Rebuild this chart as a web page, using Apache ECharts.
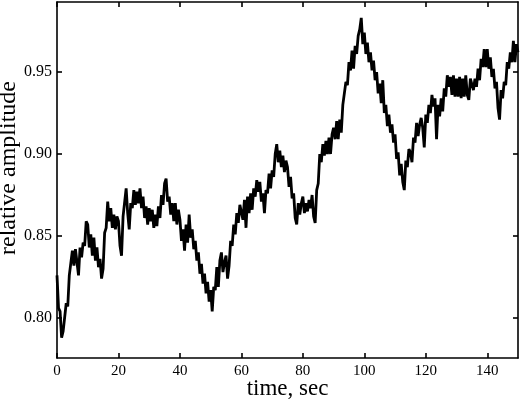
<!DOCTYPE html>
<html>
<head>
<meta charset="utf-8">
<script src="https://cdn.jsdelivr.net/npm/echarts@6/dist/echarts.min.js"></script>
<style>
  html, body { margin: 0; padding: 0; background: #fff; }
  #chart { width: 520px; height: 403px; }
</style>
</head>
<body>
<div id="chart"></div>
<script>
// one sample every half second, 0 .. 150 s
const sampleStep = 0.5;

const amplitude = [
  0.826, 0.806, 0.804, 0.788, 0.792, 0.791, 0.809, 0.807, 0.826, 0.827,
  0.841, 0.832, 0.842, 0.834, 0.826, 0.843, 0.837, 0.846, 0.844, 0.859,
  0.857, 0.843, 0.851, 0.838, 0.849, 0.835, 0.843, 0.831, 0.836, 0.824,
  0.830, 0.852, 0.855, 0.871, 0.859, 0.867, 0.855, 0.863, 0.854, 0.862,
  0.859, 0.844, 0.838, 0.862, 0.861, 0.879, 0.864, 0.854, 0.870, 0.867,
  0.878, 0.869, 0.877, 0.870, 0.879, 0.867, 0.874, 0.861, 0.868, 0.857,
  0.867, 0.859, 0.866, 0.855, 0.863, 0.856, 0.868, 0.861, 0.875, 0.869,
  0.882, 0.885, 0.871, 0.874, 0.863, 0.870, 0.859, 0.870, 0.857, 0.866,
  0.860, 0.847, 0.854, 0.841, 0.857, 0.846, 0.863, 0.849, 0.854, 0.842,
  0.847, 0.835, 0.840, 0.827, 0.833, 0.821, 0.827, 0.815, 0.822, 0.810,
  0.817, 0.804, 0.819, 0.817, 0.831, 0.819, 0.835, 0.840, 0.828, 0.834,
  0.838, 0.824, 0.832, 0.847, 0.844, 0.857, 0.851, 0.864, 0.858, 0.869,
  0.870, 0.860, 0.872, 0.855, 0.874, 0.864, 0.876, 0.866, 0.879, 0.874,
  0.884, 0.877, 0.883, 0.871, 0.876, 0.864, 0.878, 0.876, 0.888, 0.879,
  0.890, 0.886, 0.900, 0.906, 0.895, 0.902, 0.892, 0.899, 0.889, 0.896,
  0.892, 0.880, 0.886, 0.873, 0.876, 0.861, 0.857, 0.870, 0.863, 0.870,
  0.874, 0.864, 0.870, 0.865, 0.872, 0.867, 0.875, 0.862, 0.858, 0.878,
  0.882, 0.900, 0.895, 0.906, 0.899, 0.908, 0.900, 0.910, 0.900, 0.912,
  0.916, 0.909, 0.920, 0.909, 0.921, 0.913, 0.930, 0.929, 0.944, 0.942,
  0.956, 0.951, 0.963, 0.952, 0.966, 0.961, 0.972, 0.976, 0.983, 0.967,
  0.974, 0.961, 0.968, 0.956, 0.962, 0.951, 0.957, 0.945, 0.950, 0.937,
  0.943, 0.931, 0.945, 0.925, 0.930, 0.917, 0.924, 0.913, 0.918, 0.907,
  0.912, 0.897, 0.901, 0.887, 0.894, 0.883, 0.878, 0.896, 0.892, 0.903,
  0.901, 0.895, 0.910, 0.907, 0.919, 0.911, 0.918, 0.922, 0.916, 0.904,
  0.924, 0.919, 0.930, 0.925, 0.936, 0.929, 0.934, 0.909, 0.930, 0.923,
  0.934, 0.926, 0.940, 0.935, 0.948, 0.941, 0.947, 0.936, 0.948, 0.935,
  0.946, 0.935, 0.947, 0.934, 0.946, 0.935, 0.948, 0.936, 0.933, 0.946,
  0.945, 0.939, 0.946, 0.941, 0.952, 0.945, 0.958, 0.953, 0.964, 0.953,
  0.964, 0.952, 0.959, 0.947, 0.952, 0.940, 0.944, 0.928, 0.921, 0.939,
  0.934, 0.944, 0.942, 0.956, 0.952, 0.962, 0.956, 0.969, 0.956, 0.967,
  0.962
];

const xTicks = [0, 20, 40, 60, 80, 100, 120, 140];
const yTicks = [0.80, 0.85, 0.90, 0.95];
const xRange = [0, 150];
const yRange = [0.7756, 0.9927];

const serif = '"Liberation Serif", "DejaVu Serif", serif';
const ink = '#000';

function frameAxis(extra) {
    return {
        type: 'value',
        axisLine: { show: true, onZero: false, lineStyle: { color: ink, width: 1.6 } },
        splitLine: { show: false },
        ...extra,
    };
}

function ticks(values) {
    return { show: true, inside: true, length: 5, customValues: values, lineStyle: { color: ink, width: 1.6 } };
}

const chart = echarts.init(document.getElementById('chart'), null, { renderer: 'canvas' });
chart.setOption({
    animation: false,
    backgroundColor: '#fff',
    textStyle: { fontFamily: serif },
    grid: { left: 57, right: 2, top: 2, bottom: 45, containLabel: false, outerBoundsMode: 'none' },
    xAxis: [
        frameAxis({
            position: 'bottom',
            min: xRange[0],
            max: xRange[1],
            name: 'time, sec',
            nameLocation: 'middle',
            nameGap: 19,
            nameMoveOverlap: false,
            nameTextStyle: { color: ink, fontSize: 23, fontFamily: serif },
            axisTick: ticks(xTicks),
            axisLabel: { color: ink, fontSize: 15, fontFamily: serif, margin: 6, customValues: xTicks },
        }),
        frameAxis({
            position: 'top',
            min: xRange[0],
            max: xRange[1],
            axisTick: ticks(xTicks),
            axisLabel: { show: false },
        }),
    ],
    yAxis: [
        frameAxis({
            position: 'left',
            min: yRange[0],
            max: yRange[1],
            name: 'relative amplitude',
            nameLocation: 'middle',
            nameGap: 36,
            nameMoveOverlap: false,
            nameTextStyle: { color: ink, fontSize: 24, fontFamily: serif, padding: [0, 0, 0, 24] },
            axisTick: ticks(yTicks),
            axisLabel: {
                color: ink, fontSize: 16, fontFamily: serif, margin: 5,
                customValues: yTicks,
                formatter: (v) => Number(v).toFixed(2),
            },
        }),
        frameAxis({
            position: 'right',
            min: yRange[0],
            max: yRange[1],
            axisTick: ticks(yTicks),
            axisLabel: { show: false },
        }),
    ],
    series: [
        {
            type: 'line',
            xAxisIndex: 0,
            yAxisIndex: 0,
            showSymbol: false,
            lineStyle: { color: ink, width: 2.8 },
            data: amplitude.map((v, i) => [i * sampleStep, v]),
        },
    ],
});
</script>
</body>
</html>
